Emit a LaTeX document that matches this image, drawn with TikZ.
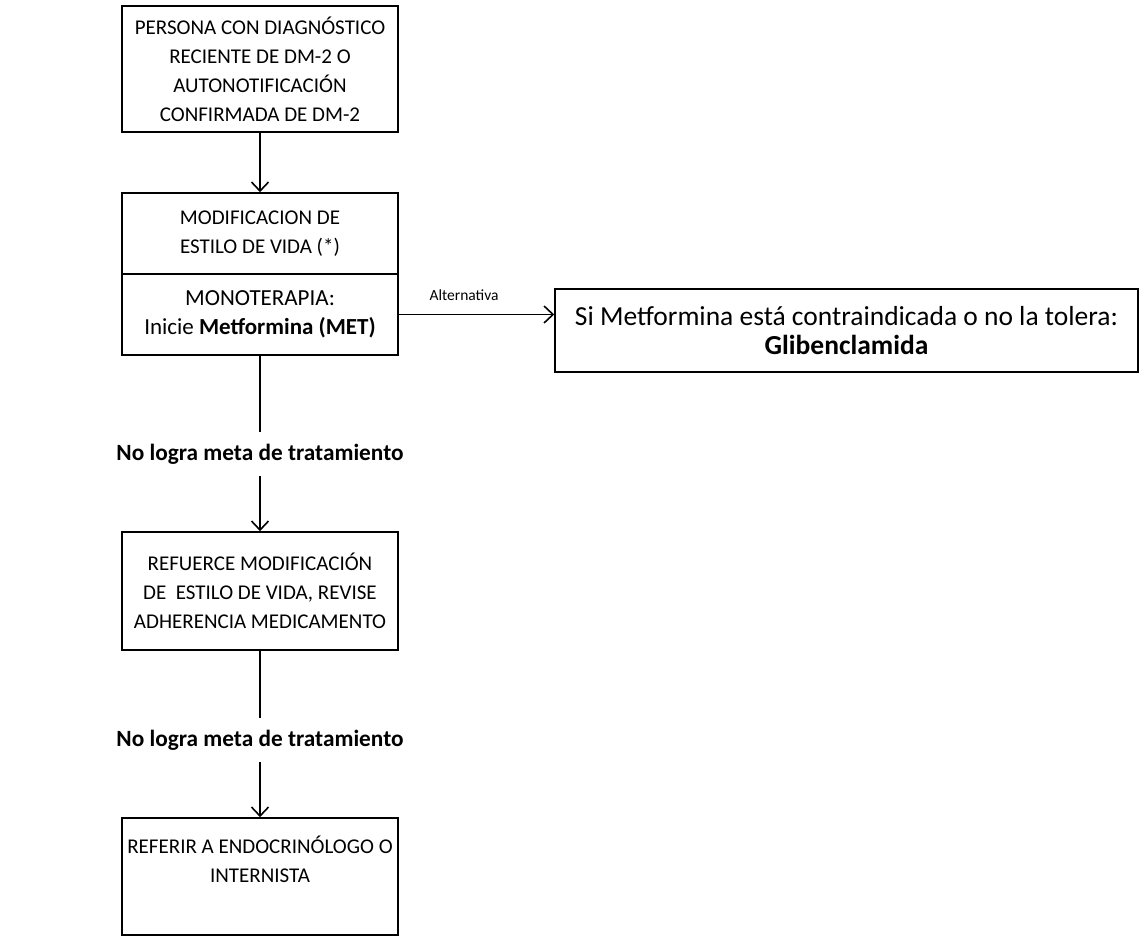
\documentclass[tikz,border=0pt]{standalone}
\usepackage{fontspec}
\setmainfont{Carlito}
\usetikzlibrary{arrows.meta}

\begin{document}
\begin{tikzpicture}[x=1pt,y=-1pt,>={Straight Barb[length=9pt,width=17pt]},
    font=\fontsize{21}{29}\selectfont,
    box/.style={draw,line width=1.6pt,align=center,minimum width=276pt,inner sep=2pt},
    conn/.style={line width=1.6pt},
    cond/.style={inner sep=12pt,font=\fontsize{23.3}{29}\selectfont\bfseries}]
\useasboundingbox (0,0) rectangle (1143,944);

\node[box,minimum height=126pt] (persona) at (260,69)
    {PERSONA CON DIAGNÓSTICO\\RECIENTE DE DM-2 O\\AUTONOTIFICACIÓN\\CONFIRMADA DE DM-2};
\node[box,minimum height=81pt] (modif) at (260,233.5) {MODIFICACION DE\\ESTILO DE VIDA (*)};
\node[box,minimum height=81pt,font=\fontsize{23}{29}\selectfont] (mono) at (260,314.5)
    {MONOTERAPIA:\\Inicie \textbf{Metformina (MET)}};
\node[box,minimum width=583pt,minimum height=83pt,font=\fontsize{27.5}{29}\selectfont] (glib) at (846.5,330.5)
    {Si Metformina está contraindicada o no la tolera:\\\textbf{Glibenclamida}};

\node[cond] (falla1) at (260,454) {No logra meta de tratamiento};
\node[box,minimum height=118pt] (refuerce) at (260,591)
    {REFUERCE MODIFICACIÓN\\DE \ ESTILO DE VIDA, REVISE\\ADHERENCIA MEDICAMENTO};
\node[cond] (falla2) at (260,740) {No logra meta de tratamiento};
\node[box,minimum height=117pt] (referir) at (260,876.5)
    {REFERIR A ENDOCRINÓLOGO O\\INTERNISTA\\[6pt]\mbox{}};

\draw[->,conn] (persona) -- (modif);
\draw[->,conn] (mono.east) -- (mono.east -| glib.west)
    node[pos=0.42,above=10pt,font=\fontsize{15.5}{18}\selectfont] (alt) {Alternativa};
\draw[conn] (mono) -- (falla1);
\draw[->,conn] (falla1) -- (refuerce);
\draw[conn] (refuerce) -- (falla2);
\draw[->,conn] (falla2) -- (referir);

\end{tikzpicture}
\end{document}
